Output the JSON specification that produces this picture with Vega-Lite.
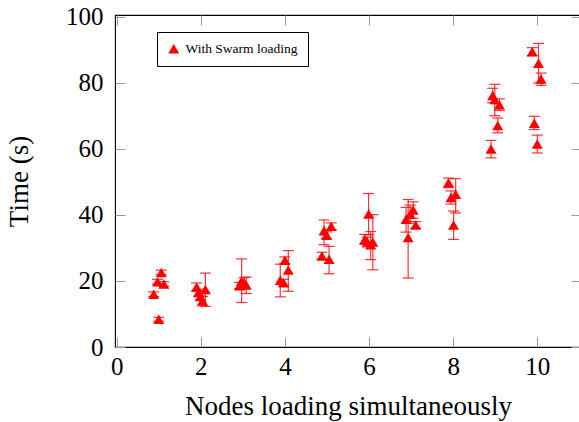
{
  "$schema": "https://vega.github.io/schema/vega-lite/v6.json",
  "autosize": {"type": "none"},
  "padding": {"left": 115, "top": 15, "right": 0, "bottom": 75},
  "width": 466,
  "height": 332,
  "config": {
    "view": {"stroke": "black", "strokeWidth": 1.1},
    "font": "Liberation Serif",
    "axis": {
      "grid": false,
      "domain": false,
      "tickColor": "#9a9a9a",
      "tickSize": -10,
      "tickWidth": 1,
      "labelFont": "Liberation Serif",
      "labelFontSize": 25,
      "labelColor": "black",
      "titleFont": "Liberation Serif",
      "titleFontSize": 27,
      "titleFontWeight": "normal",
      "titleColor": "black"
    },
    "legend": {
      "orient": "none",
      "legendX": 42,
      "legendY": 17,
      "strokeColor": "black",
      "fillColor": "white",
      "padding": 10,
      "labelFont": "Liberation Serif",
      "labelFontSize": 13.5,
      "labelColor": "black",
      "labelOffset": 5,
      "symbolSize": 121,
      "symbolStrokeWidth": 0,
      "symbolOpacity": 1
    }
  },
  "data": {
    "values": [
      {"x": 0.88, "y": 16.0, "lo": 15.3, "hi": 16.7},
      {"x": 0.97, "y": 19.8, "lo": 19.1, "hi": 20.5},
      {"x": 1.06, "y": 22.6, "lo": 21.9, "hi": 23.3},
      {"x": 1.12, "y": 19.1, "lo": 18.4, "hi": 19.8},
      {"x": 1.00, "y": 8.4, "lo": 7.8, "hi": 9.0},
      {"x": 1.90, "y": 18.2, "lo": 17.0, "hi": 19.4},
      {"x": 1.95, "y": 16.5, "lo": 15.5, "hi": 17.5},
      {"x": 1.99, "y": 15.3, "lo": 14.3, "hi": 16.3},
      {"x": 2.04, "y": 14.0, "lo": 12.5, "hi": 15.3},
      {"x": 2.11, "y": 17.4, "lo": 12.3, "hi": 22.4},
      {"x": 2.92, "y": 18.6, "lo": 17.6, "hi": 19.6},
      {"x": 2.97, "y": 20.0, "lo": 13.5, "hi": 26.7},
      {"x": 3.03, "y": 19.5, "lo": 18.0, "hi": 21.0},
      {"x": 3.08, "y": 18.8, "lo": 16.2, "hi": 21.2},
      {"x": 3.89, "y": 20.2, "lo": 15.2, "hi": 25.1},
      {"x": 3.97, "y": 19.5, "lo": 18.5, "hi": 20.5},
      {"x": 4.00, "y": 26.3, "lo": 25.3, "hi": 27.3},
      {"x": 4.08, "y": 23.3, "lo": 16.9, "hi": 29.2},
      {"x": 4.88, "y": 27.6, "lo": 26.6, "hi": 28.7},
      {"x": 4.93, "y": 35.2, "lo": 31.0, "hi": 38.5},
      {"x": 4.99, "y": 33.9, "lo": 32.9, "hi": 34.9},
      {"x": 5.05, "y": 26.6, "lo": 22.2, "hi": 30.5},
      {"x": 5.10, "y": 36.6, "lo": 35.5, "hi": 37.6},
      {"x": 5.90, "y": 32.6, "lo": 31.1, "hi": 34.1},
      {"x": 5.96, "y": 31.8, "lo": 30.3, "hi": 33.3},
      {"x": 5.99, "y": 40.3, "lo": 34.0, "hi": 46.5},
      {"x": 6.04, "y": 31.0, "lo": 26.5, "hi": 35.0},
      {"x": 6.09, "y": 31.8, "lo": 23.4, "hi": 40.1},
      {"x": 6.88, "y": 38.7, "lo": 34.8, "hi": 42.3},
      {"x": 6.93, "y": 33.2, "lo": 20.9, "hi": 44.7},
      {"x": 6.98, "y": 40.2, "lo": 37.5, "hi": 43.0},
      {"x": 7.05, "y": 41.5, "lo": 39.0, "hi": 44.0},
      {"x": 7.11, "y": 37.0, "lo": 36.0, "hi": 38.0},
      {"x": 7.89, "y": 49.8, "lo": 48.3, "hi": 51.2},
      {"x": 7.95, "y": 45.3, "lo": 43.3, "hi": 47.3},
      {"x": 8.01, "y": 37.0, "lo": 32.6, "hi": 41.2},
      {"x": 8.06, "y": 46.3, "lo": 40.6, "hi": 51.0},
      {"x": 8.90, "y": 60.0, "lo": 57.3, "hi": 62.6},
      {"x": 8.94, "y": 76.2, "lo": 74.0, "hi": 78.4},
      {"x": 8.99, "y": 75.0, "lo": 70.1, "hi": 79.6},
      {"x": 9.06, "y": 67.1, "lo": 64.9, "hi": 69.4},
      {"x": 9.10, "y": 73.4, "lo": 71.7, "hi": 75.2},
      {"x": 9.88, "y": 89.5, "lo": 88.3, "hi": 90.7},
      {"x": 9.93, "y": 67.8, "lo": 65.9, "hi": 69.9},
      {"x": 10.00, "y": 61.5, "lo": 58.8, "hi": 64.2},
      {"x": 10.03, "y": 86.0, "lo": 80.0, "hi": 92.0},
      {"x": 10.09, "y": 81.2, "lo": 79.3, "hi": 83.0}
    ]
  },
  "resolve": {"axis": {"x": "independent", "y": "independent"}},
  "layer": [
    {
      "mark": {"type": "rule", "color": "red", "strokeWidth": 1.2, "opacity": 0.8},
      "encoding": {
        "x": {"field": "x", "type": "quantitative", "scale": {"domain": [-0.04, 11.04], "nice": false, "zero": false},
              "axis": {"orient": "top", "labels": false, "title": null, "values": [0, 2, 4, 6, 8, 10]}},
        "y": {"field": "lo", "type": "quantitative", "scale": {"domain": [0, 100.6], "nice": false},
              "axis": {"orient": "right", "labels": false, "title": null, "values": [0, 20, 40, 60, 80, 100]}},
        "y2": {"field": "hi"}
      }
    },
    {
      "mark": {"type": "tick", "orient": "horizontal", "color": "red", "size": 11, "thickness": 1.2, "opacity": 0.8},
      "encoding": {
        "x": {"field": "x", "type": "quantitative", "axis": null},
        "y": {"field": "lo", "type": "quantitative", "axis": null}
      }
    },
    {
      "mark": {"type": "tick", "orient": "horizontal", "color": "red", "size": 11, "thickness": 1.2, "opacity": 0.8},
      "encoding": {
        "x": {"field": "x", "type": "quantitative", "axis": null},
        "y": {"field": "hi", "type": "quantitative", "axis": null}
      }
    },
    {
      "mark": {"type": "point", "filled": true, "size": 121, "opacity": 1},
      "encoding": {
        "x": {"field": "x", "type": "quantitative",
              "axis": {"orient": "bottom", "values": [0, 2, 4, 6, 8, 10], "labelPadding": 17, "titlePadding": 14, "title": "Nodes loading simultaneously"}},
        "y": {"field": "y", "type": "quantitative",
              "axis": {"orient": "left", "values": [0, 20, 40, 60, 80, 100], "labelPadding": 22, "titlePadding": 32, "title": "Time (s)"}},
        "color": {"datum": "With Swarm loading", "type": "nominal", "scale": {"range": ["red"]}, "legend": {"title": null}},
        "shape": {"datum": "With Swarm loading", "type": "nominal", "scale": {"range": ["triangle-up"]}, "legend": {"title": null}}
      }
    }
  ]
}
